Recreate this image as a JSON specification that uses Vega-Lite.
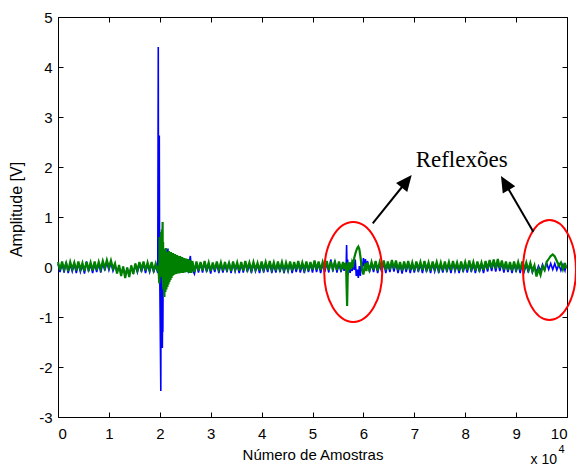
{
"$schema": "https://vega.github.io/schema/vega-lite/v6.json",
"width": 509, "height": 400,
"autosize": "none",
"padding": {"left": 58, "top": 17, "right": 9, "bottom": 49},
"background": "white",
"config": {
 "view": {"stroke": null},
 "axis": {"labelFont": "Liberation Sans", "labelFontSize": 15, "labelColor": "#000", "titleFont": "Liberation Sans", "titleFontSize": 15, "titleFontWeight": "normal", "titleColor": "#000", "domainColor": "#000", "tickColor": "#000", "tickSize": -5, "grid": false, "domainWidth": 1, "tickWidth": 1}
},
"datasets": {
 "sig": [
{"x":0.00,"g":0.10,"b":0.06},{"x":0.04,"g":-0.06,"b":-0.10},{"x":0.08,"g":0.11,"b":0.07},{"x":0.12,"g":-0.05,"b":-0.11},{"x":0.16,"g":0.08,"b":0.10},{"x":0.20,"g":-0.08,"b":-0.12},{"x":0.24,"g":0.10,"b":0.05},{"x":0.28,"g":-0.04,"b":-0.09},{"x":0.32,"g":0.09,"b":0.06},{"x":0.36,"g":-0.07,"b":-0.12},{"x":0.40,"g":0.11,"b":0.07},{"x":0.44,"g":-0.05,"b":-0.10},{"x":0.48,"g":0.08,"b":0.04},{"x":0.52,"g":-0.08,"b":-0.13},{"x":0.56,"g":0.10,"b":0.11},{"x":0.60,"g":-0.05,"b":-0.09},{"x":0.64,"g":0.09,"b":0.05},{"x":0.68,"g":-0.07,"b":-0.12},{"x":0.72,"g":0.11,"b":0.06},{"x":0.76,"g":-0.06,"b":-0.10},{"x":0.80,"g":0.10,"b":0.07},{"x":0.84,"g":-0.04,"b":-0.11},{"x":0.88,"g":0.12,"b":0.08},
{"x":0.92,"g":-0.02,"b":-0.07},{"x":0.96,"g":0.14,"b":0.10},{"x":1.00,"g":-0.01,"b":-0.06},{"x":1.04,"g":0.13,"b":0.09},{"x":1.08,"g":-0.03,"b":-0.08},
{"x":1.12,"g":0.07,"b":0.03},{"x":1.16,"g":-0.13,"b":-0.10},{"x":1.20,"g":0.04,"b":0.00},{"x":1.24,"g":-0.18,"b":-0.12},{"x":1.28,"g":0.01,"b":-0.02},{"x":1.32,"g":-0.22,"b":-0.14},{"x":1.36,"g":-0.01,"b":-0.04},{"x":1.40,"g":-0.20,"b":-0.13},{"x":1.44,"g":0.03,"b":0.00},{"x":1.48,"g":-0.14,"b":-0.11},{"x":1.52,"g":0.07,"b":0.03},
{"x":1.56,"g":-0.07,"b":-0.11},{"x":1.60,"g":0.10,"b":0.06},{"x":1.64,"g":-0.05,"b":-0.10},{"x":1.68,"g":0.11,"b":0.07},{"x":1.72,"g":-0.07,"b":-0.12},{"x":1.76,"g":0.09,"b":0.05},{"x":1.80,"g":-0.06,"b":-0.10},{"x":1.84,"g":0.10,"b":0.06},{"x":1.88,"g":-0.07,"b":-0.11},{"x":1.92,"g":0.07,"b":0.04},{"x":1.96,"g":-0.08,"b":-0.12},
{"x":1.97,"b":4.40,"g":0.02},{"x":1.975,"b":-0.10,"g":-0.05},{"x":1.99,"b":2.63,"g":-0.33},{"x":1.995,"b":0.30,"g":0.60},{"x":2.02,"b":-2.48,"g":0.10},{"x":2.025,"b":0.20,"g":0.70},{"x":2.03,"b":-1.00,"g":-0.20},{"x":2.04,"b":-0.40,"g":0.75},{"x":2.05,"b":-1.62,"g":0.20},{"x":2.055,"b":-0.90,"g":0.90},{"x":2.06,"b":-1.30,"g":-0.25},{"x":2.065,"b":-0.30,"g":0.50},{"x":2.07,"b":0.10,"g":-0.45},{"x":2.08,"b":-0.35,"g":0.35},{"x":2.09,"b":0.35,"g":-0.60},{"x":2.10,"b":-0.20,"g":0.30},{"x":2.11,"b":0.37,"g":-0.50},
{"x":2.12,"b":-0.15,"g":0.38},{"x":2.13,"b":0.30,"g":-0.45},{"x":2.14,"b":0.00,"g":0.30},{"x":2.15,"b":0.20,"g":-0.40},{"x":2.16,"b":0.37,"g":0.28},{"x":2.17,"b":-0.05,"g":-0.35},{"x":2.18,"b":-0.10,"g":0.32},{"x":2.19,"b":0.20,"g":-0.30},{"x":2.20,"b":0.28,"g":0.30},{"x":2.21,"b":0.00,"g":-0.26},{"x":2.22,"b":-0.05,"g":0.30},{"x":2.23,"b":0.18,"g":-0.22},{"x":2.24,"b":0.22,"g":0.28},{"x":2.25,"b":-0.08,"g":-0.18},{"x":2.26,"b":-0.15,"g":0.28},{"x":2.27,"b":0.10,"g":-0.16},{"x":2.28,"b":0.15,"g":0.26},{"x":2.29,"b":-0.06,"g":-0.15},{"x":2.30,"b":-0.10,"g":0.26},{"x":2.31,"b":0.08,"g":-0.14},{"x":2.32,"b":0.10,"g":0.24},{"x":2.33,"b":-0.06,"g":-0.14},{"x":2.34,"b":-0.12,"g":0.24},{"x":2.35,"b":0.04,"g":-0.12},{"x":2.36,"b":0.05,"g":0.22},{"x":2.38,"b":-0.08,"g":-0.13},{"x":2.40,"b":-0.05,"g":0.22},{"x":2.42,"b":0.08,"g":-0.12},{"x":2.44,"b":0.10,"g":0.20},{"x":2.46,"b":-0.08,"g":-0.12},{"x":2.48,"b":-0.06,"g":0.18},{"x":2.50,"b":0.06,"g":-0.11},{"x":2.52,"b":0.08,"g":0.17},{"x":2.54,"b":-0.08,"g":-0.10},{"x":2.56,"b":-0.10,"g":0.16},{"x":2.58,"b":0.10,"g":-0.12},{"x":2.60,"b":0.22,"g":0.14},{"x":2.62,"b":-0.04,"g":-0.12},{"x":2.64,"b":-0.05,"g":0.12},{"x":2.68,"b":-0.14,"g":-0.10},{"x":2.72,"b":0.06,"g":0.11},
{"x":2.76,"g":-0.07,"b":-0.11},{"x":2.80,"g":0.10,"b":0.07},{"x":2.84,"g":-0.07,"b":-0.11},{"x":2.88,"g":0.12,"b":0.08},{"x":2.92,"g":-0.05,"b":-0.10},{"x":2.96,"g":0.09,"b":0.05},{"x":3.00,"g":-0.08,"b":-0.13},{"x":3.04,"g":0.09,"b":0.06},{"x":3.08,"g":-0.06,"b":-0.10},{"x":3.12,"g":0.11,"b":0.07},{"x":3.16,"g":-0.05,"b":-0.12},{"x":3.20,"g":0.09,"b":0.06},{"x":3.24,"g":-0.07,"b":-0.11},{"x":3.28,"g":0.10,"b":0.05},{"x":3.32,"g":-0.05,"b":-0.10},{"x":3.36,"g":0.08,"b":0.10},{"x":3.40,"g":-0.08,"b":-0.12},{"x":3.44,"g":0.11,"b":0.07},{"x":3.48,"g":-0.05,"b":-0.09},{"x":3.52,"g":0.09,"b":0.05},{"x":3.56,"g":-0.07,"b":-0.12},{"x":3.60,"g":0.10,"b":0.06},{"x":3.64,"g":-0.07,"b":-0.11},{"x":3.68,"g":0.12,"b":0.08},{"x":3.72,"g":-0.05,"b":-0.10},{"x":3.76,"g":0.09,"b":0.05},{"x":3.80,"g":-0.06,"b":-0.12},{"x":3.84,"g":0.10,"b":0.06},{"x":3.88,"g":-0.05,"b":-0.09},{"x":3.92,"g":0.08,"b":0.04},{"x":3.96,"g":-0.07,"b":-0.12},{"x":4.00,"g":0.11,"b":0.07},{"x":4.04,"g":-0.05,"b":-0.11},{"x":4.08,"g":0.10,"b":0.06},{"x":4.12,"g":-0.06,"b":-0.10},{"x":4.16,"g":0.12,"b":0.08},{"x":4.20,"g":-0.05,"b":-0.12},{"x":4.24,"g":0.09,"b":0.05},{"x":4.28,"g":-0.07,"b":-0.11},{"x":4.32,"g":0.11,"b":0.07},{"x":4.36,"g":-0.05,"b":-0.10},{"x":4.40,"g":0.10,"b":0.06},{"x":4.44,"g":-0.06,"b":-0.12},{"x":4.48,"g":0.09,"b":0.05},{"x":4.52,"g":-0.05,"b":-0.09},{"x":4.56,"g":0.11,"b":0.07},{"x":4.60,"g":-0.07,"b":-0.12},{"x":4.64,"g":0.10,"b":0.06},{"x":4.68,"g":-0.05,"b":-0.10},{"x":4.72,"g":0.12,"b":0.08},{"x":4.76,"g":-0.06,"b":-0.11},{"x":4.80,"g":0.09,"b":0.05},{"x":4.84,"g":-0.05,"b":-0.12},{"x":4.88,"g":0.11,"b":0.07},{"x":4.92,"g":-0.07,"b":-0.10},{"x":4.96,"g":0.10,"b":0.06},{"x":5.00,"g":-0.05,"b":-0.11},{"x":5.04,"g":0.13,"b":0.09},{"x":5.08,"g":-0.05,"b":-0.10},{"x":5.12,"g":0.11,"b":0.07},{"x":5.16,"g":-0.06,"b":-0.12},{"x":5.20,"g":0.10,"b":0.06},{"x":5.24,"g":-0.05,"b":-0.10},{"x":5.28,"g":0.12,"b":0.08},{"x":5.32,"g":-0.06,"b":-0.11},{"x":5.36,"g":0.11,"b":0.15},{"x":5.40,"g":-0.04,"b":-0.09},{"x":5.44,"g":0.10,"b":0.13},{"x":5.48,"g":-0.06,"b":-0.11},{"x":5.52,"g":0.11,"b":0.07},{"x":5.56,"g":-0.04,"b":-0.10},
{"x":5.60,"b":0.06,"g":0.10},{"x":5.62,"b":-0.08,"g":-0.04},{"x":5.64,"b":0.05,"g":0.08},{"x":5.66,"b":-0.05,"g":0.00},{"x":5.67,"b":0.44,"g":-0.40},{"x":5.68,"b":-0.12,"g":-0.78},{"x":5.69,"b":0.15,"g":-0.25},{"x":5.70,"b":-0.15,"g":0.10},{"x":5.72,"b":0.05,"g":-0.06},{"x":5.74,"b":-0.12,"g":0.09},{"x":5.76,"b":0.04,"g":-0.04},{"x":5.78,"b":-0.08,"g":0.10},{"x":5.80,"b":0.12,"g":0.05},{"x":5.82,"b":-0.06,"g":0.18},{"x":5.84,"b":0.15,"g":0.26},{"x":5.86,"b":-0.18,"g":0.33},{"x":5.88,"b":-0.05,"g":0.38},{"x":5.90,"b":-0.22,"g":0.41},{"x":5.92,"b":0.02,"g":0.36},{"x":5.94,"b":-0.18,"g":0.22},{"x":5.96,"b":0.10,"g":0.06},{"x":5.98,"b":-0.08,"g":-0.08},{"x":6.00,"b":0.18,"g":-0.15},{"x":6.02,"b":0.02,"g":-0.04},{"x":6.04,"b":0.16,"g":0.07},{"x":6.06,"b":-0.04,"g":-0.08},{"x":6.08,"b":0.12,"g":0.09},{"x":6.12,"b":-0.10,"g":-0.06},{"x":6.16,"b":0.06,"g":0.10},
{"x":6.20,"g":-0.05,"b":-0.10},{"x":6.24,"g":0.12,"b":0.08},{"x":6.28,"g":-0.07,"b":-0.12},{"x":6.32,"g":0.10,"b":0.06},{"x":6.36,"g":-0.04,"b":-0.10},{"x":6.40,"g":0.13,"b":0.09},{"x":6.44,"g":-0.06,"b":-0.12},{"x":6.48,"g":0.11,"b":0.07},{"x":6.52,"g":-0.05,"b":-0.10},{"x":6.56,"g":0.14,"b":0.09},{"x":6.60,"g":-0.03,"b":-0.09},{"x":6.64,"g":0.13,"b":0.08},{"x":6.68,"g":-0.06,"b":-0.12},{"x":6.72,"g":0.10,"b":0.06},{"x":6.76,"g":-0.07,"b":-0.13},{"x":6.80,"g":0.11,"b":0.07},{"x":6.84,"g":-0.05,"b":-0.10},{"x":6.88,"g":0.12,"b":0.08},{"x":6.92,"g":-0.06,"b":-0.12},{"x":6.96,"g":0.09,"b":0.05},{"x":7.00,"g":-0.07,"b":-0.11},{"x":7.04,"g":0.11,"b":0.07},{"x":7.08,"g":-0.04,"b":-0.10},{"x":7.12,"g":0.10,"b":0.06},{"x":7.16,"g":-0.06,"b":-0.12},{"x":7.20,"g":0.12,"b":0.08},{"x":7.24,"g":-0.05,"b":-0.10},{"x":7.28,"g":0.09,"b":0.05},{"x":7.32,"g":-0.07,"b":-0.12},{"x":7.36,"g":0.11,"b":0.07},{"x":7.40,"g":-0.04,"b":-0.09},{"x":7.44,"g":0.10,"b":0.06},{"x":7.48,"g":-0.06,"b":-0.12},{"x":7.52,"g":0.09,"b":0.05},{"x":7.56,"g":-0.07,"b":-0.11},{"x":7.60,"g":0.11,"b":0.07},{"x":7.64,"g":-0.05,"b":-0.10},{"x":7.68,"g":0.10,"b":0.06},{"x":7.72,"g":-0.06,"b":-0.12},{"x":7.76,"g":0.12,"b":0.08},{"x":7.80,"g":-0.04,"b":-0.09},{"x":7.84,"g":0.09,"b":0.05},{"x":7.88,"g":-0.07,"b":-0.12},{"x":7.92,"g":0.11,"b":0.07},{"x":7.96,"g":-0.05,"b":-0.10},{"x":8.00,"g":0.10,"b":0.06},{"x":8.04,"g":-0.06,"b":-0.11},{"x":8.08,"g":0.13,"b":0.09},{"x":8.12,"g":-0.04,"b":-0.10},{"x":8.16,"g":0.10,"b":0.06},{"x":8.20,"g":-0.07,"b":-0.12},{"x":8.24,"g":0.11,"b":0.07},{"x":8.28,"g":-0.05,"b":-0.10},{"x":8.32,"g":0.09,"b":0.05},{"x":8.36,"g":-0.06,"b":-0.12},{"x":8.40,"g":0.12,"b":0.08},{"x":8.44,"g":-0.04,"b":-0.09},{"x":8.48,"g":0.14,"b":0.10},{"x":8.52,"g":-0.02,"b":-0.08},{"x":8.56,"g":0.15,"b":0.11},{"x":8.60,"g":-0.03,"b":-0.09},{"x":8.64,"g":0.16,"b":0.11},{"x":8.68,"g":-0.02,"b":-0.08},{"x":8.72,"g":0.13,"b":0.09},{"x":8.76,"g":-0.05,"b":-0.11},{"x":8.80,"g":0.11,"b":0.07},{"x":8.84,"g":-0.06,"b":-0.10},{"x":8.88,"g":0.10,"b":0.06},{"x":8.92,"g":-0.07,"b":-0.12},{"x":8.96,"g":0.11,"b":0.07},{"x":9.00,"g":-0.05,"b":-0.10},{"x":9.04,"g":0.10,"b":0.06},{"x":9.08,"g":-0.06,"b":-0.12},{"x":9.12,"g":0.11,"b":0.07},{"x":9.16,"g":-0.04,"b":-0.09},{"x":9.20,"g":0.09,"b":0.05},{"x":9.24,"g":-0.06,"b":-0.11},{"x":9.28,"g":0.08,"b":0.05},
{"x":9.32,"g":-0.08,"b":-0.11},{"x":9.36,"g":0.03,"b":0.00},{"x":9.40,"g":-0.19,"b":-0.10},{"x":9.44,"g":-0.04,"b":0.02},{"x":9.48,"g":-0.16,"b":-0.08},{"x":9.52,"g":0.01,"b":0.05},{"x":9.56,"g":-0.06,"b":-0.06},{"x":9.60,"g":0.10,"b":0.08},{"x":9.64,"g":0.16,"b":-0.05},{"x":9.68,"g":0.22,"b":0.07},{"x":9.72,"g":0.25,"b":-0.05},{"x":9.76,"g":0.21,"b":0.07},{"x":9.80,"g":0.12,"b":-0.06},{"x":9.84,"g":0.03,"b":0.05},{"x":9.88,"g":0.09,"b":-0.07},{"x":9.92,"g":-0.05,"b":0.05},{"x":9.96,"g":0.08,"b":-0.07},{"x":9.98,"g":-0.03,"b":0.04}
 ]
},
"resolve": {"axis": {"x": "independent", "y": "independent"}},
"layer": [
 {
  "data": {"name": "sig"},
  "mark": {"type": "line", "color": "#0000ff", "strokeWidth": 1.6},
  "encoding": {
   "x": {"field": "x", "type": "quantitative", "scale": {"domain": [0, 10], "nice": false, "zero": false},
     "axis": {"orient": "bottom", "values": [0,1,2,3,4,5,6,7,8,9,10], "labelExpr": "'' + datum.value", "labelPadding": 14, "title": "Número de Amostras", "titlePadding": 6}},
   "y": {"field": "b", "type": "quantitative", "scale": {"domain": [-3, 5], "nice": false, "zero": false},
     "axis": {"orient": "left", "values": [-3,-2,-1,0,1,2,3,4,5], "labelExpr": "'' + datum.value", "labelPadding": 11, "title": "Amplitude [V]", "titleFontSize": 16, "titleX": -42, "titleY": 192, "titleAlign": "center", "titleBaseline": "middle", "titleAngle": 270}}
  }
 },
 {
  "data": {"name": "sig"},
  "mark": {"type": "line", "color": "#008000", "strokeWidth": 2.2},
  "encoding": {
   "x": {"field": "x", "type": "quantitative",
     "axis": {"orient": "top", "values": [0,1,2,3,4,5,6,7,8,9,10], "labels": false, "title": "x 10", "titleX": 472, "titleY": 446, "titleAlign": "left", "titleBaseline": "alphabetic", "titleAngle": 0, "titleFontSize": 14}},
   "y": {"field": "g", "type": "quantitative",
     "axis": {"orient": "right", "values": [-3,-2,-1,0,1,2,3,4,5], "labels": false, "title": "4", "titleX": -9, "titleY": 435, "titleAlign": "left", "titleBaseline": "alphabetic", "titleAngle": 0, "titleFontSize": 11}}
  }
 },
 {
  "data": {"values": [{"x": 5.80, "y": -0.1}]},
  "mark": {"type": "point", "shape": "M-0.58,0A0.58,1 0 1 0 0.58,0A0.58,1 0 1 0 -0.58,0", "size": 10000, "filled": false, "color": "#ff0000", "strokeWidth": 2, "opacity": 1},
  "encoding": {"x": {"field": "x", "type": "quantitative", "axis": null}, "y": {"field": "y", "type": "quantitative", "axis": null}}
 },
 {
  "data": {"values": [{"x": 9.656, "y": -0.06}]},
  "mark": {"type": "point", "shape": "M-0.53,0A0.53,1 0 1 0 0.53,0A0.53,1 0 1 0 -0.53,0", "size": 10000, "filled": false, "color": "#ff0000", "strokeWidth": 2, "opacity": 1},
  "encoding": {"x": {"field": "x", "type": "quantitative", "axis": null}, "y": {"field": "y", "type": "quantitative", "axis": null}}
 },
 {
  "data": {"values": [{"x": 6.183, "y": 0.874, "x2": 6.90, "y2": 1.78}, {"x": 9.338, "y": 0.706, "x2": 8.74, "y2": 1.75}]},
  "mark": {"type": "rule", "color": "#000", "strokeWidth": 2},
  "encoding": {"x": {"field": "x", "type": "quantitative", "axis": null}, "y": {"field": "y", "type": "quantitative", "axis": null}, "x2": {"field": "x2"}, "y2": {"field": "y2"}}
 },
 {
  "data": {"values": [{"x": 6.949, "y": 1.84}]},
  "mark": {"type": "point", "shape": "M0,0L-0.9,2L0.9,2Z", "size": 256, "filled": true, "color": "#000", "opacity": 1, "angle": 39},
  "encoding": {"x": {"field": "x", "type": "quantitative", "axis": null}, "y": {"field": "y", "type": "quantitative", "axis": null}}
 },
 {
  "data": {"values": [{"x": 8.703, "y": 1.82}]},
  "mark": {"type": "point", "shape": "M0,0L-0.9,2L0.9,2Z", "size": 256, "filled": true, "color": "#000", "opacity": 1, "angle": 330},
  "encoding": {"x": {"field": "x", "type": "quantitative", "axis": null}, "y": {"field": "y", "type": "quantitative", "axis": null}}
 },
 {
  "data": {"values": [{"x": 7.93, "y": 2.0, "label": "Reflexões"}]},
  "mark": {"type": "text", "font": "Liberation Serif", "fontSize": 23, "align": "center", "baseline": "alphabetic", "color": "#000"},
  "encoding": {"x": {"field": "x", "type": "quantitative", "axis": null}, "y": {"field": "y", "type": "quantitative", "axis": null}, "text": {"field": "label"}}
 }
]
}
